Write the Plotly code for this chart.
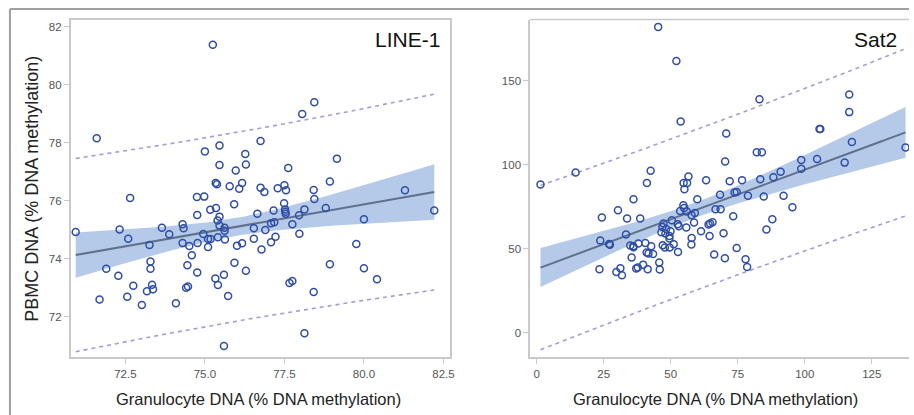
import numpy as np
import plotly.graph_objects as go

# ---------------- data ----------------
line1_x = [75.25, 71.60, 78.06, 78.44, 75.00, 75.46, 76.75, 75.46, 75.97, 76.27, 76.29, 77.62, 79.15, 78.93,
           81.29, 75.34, 75.38, 75.78, 76.08, 76.17, 76.75, 76.87, 77.29, 77.50, 77.55, 78.42, 78.44, 72.65,
           74.75, 74.98, 70.94, 72.32, 72.59, 73.26, 73.65, 73.88, 74.30, 74.33, 74.30, 74.51, 74.76, 74.77,
           74.95, 75.10, 75.10, 75.18, 75.17, 75.35, 75.40, 75.46, 75.46, 75.41, 75.62, 75.62, 75.63, 75.92,
           76.01, 76.17, 76.65, 76.54, 76.54, 76.78, 76.90, 77.08, 77.18, 77.16, 77.08, 77.22, 77.49, 77.52,
           77.54, 77.53, 77.75, 77.96, 77.97, 78.13, 78.80, 80.00, 79.76, 82.21, 71.90, 71.69, 72.28, 72.56,
           72.75, 73.02, 73.18, 73.29, 73.29, 73.34, 73.37, 74.09, 74.45, 74.59, 74.41, 74.47, 74.76, 75.33,
           75.41, 75.60, 75.73, 75.60, 75.93, 76.29, 77.66, 77.75, 78.13, 78.42, 78.93, 80.00, 80.41]
line1_y = [81.39, 78.16, 79.00, 79.40, 77.71, 77.91, 78.07, 77.24, 77.05, 77.62, 77.26, 77.14, 77.46, 76.67,
           76.37, 76.62, 76.58, 76.51, 76.42, 76.62, 76.46, 76.31, 76.44, 76.54, 76.37, 76.38, 76.07, 76.10,
           76.14, 76.15, 74.93, 75.02, 74.70, 74.48, 75.08, 74.85, 75.20, 75.06, 74.55, 74.45, 75.52, 74.55,
           74.86, 74.41, 74.69, 74.69, 75.70, 75.76, 75.33, 75.46, 75.15, 74.75, 75.08, 74.97, 74.67, 75.89,
           74.46, 74.54, 75.56, 75.06, 74.70, 74.33, 75.00, 75.23, 75.27, 75.67, 74.58, 74.77, 75.92, 75.71,
           75.56, 75.63, 75.20, 75.51, 74.87, 75.71, 75.76, 75.37, 74.52, 75.67, 73.66, 72.60, 73.42, 72.70,
           73.08, 72.41, 72.89, 73.91, 73.66, 73.11, 72.96, 72.47, 73.78, 74.13, 73.01, 73.05, 73.53, 73.33,
           73.10, 73.46, 72.72, 71.00, 73.87, 73.59, 73.17, 73.24, 71.44, 72.86, 73.82, 73.68, 73.30]

sat2_x = [45.3, 52.1, 53.7, 1.4, 14.5, 42.5, 41.1, 70.7, 70.3, 83.1, 82.1, 84.0, 116.6, 116.6, 105.5, 105.8,
          117.6, 137.6, 114.9, 98.7, 98.7, 104.6, 91.0, 88.3, 83.4, 76.6, 72.0, 63.2, 56.6, 54.8, 56.1, 55.1,
          59.9, 68.4, 73.8, 74.6, 78.8, 84.7, 92.1, 36.1, 24.3, 30.3, 33.7, 38.6, 33.3, 23.7, 27.0, 27.3, 34.9,
          36.1, 36.0, 37.9, 40.5, 42.7, 41.7, 43.4, 41.0, 35.4, 23.4, 29.7, 31.2, 31.8, 37.1, 37.7, 39.7, 41.4,
          45.7, 45.9, 47.0, 47.8, 49.6, 51.1, 52.7, 47.3, 46.5, 48.0, 46.9, 48.3, 49.9, 49.5, 50.4, 52.6, 53.0,
          53.5, 54.7, 55.0, 56.0, 57.8, 59.0, 58.7, 55.8, 57.8, 57.7, 61.3, 64.1, 64.7, 65.6, 64.5, 66.2, 66.7,
          68.6, 70.2, 69.7, 73.3, 74.6, 77.9, 78.5, 85.7, 87.9, 95.4, 49.5]
sat2_y = [182.2, 161.8, 125.8, 88.2, 95.4, 96.4, 89.2, 118.7, 101.9, 139.1, 107.5, 107.5, 141.9, 131.4, 121.4,
          121.4, 113.6, 110.3, 101.3, 102.9, 97.6, 103.5, 95.8, 92.6, 91.4, 90.8, 90.2, 90.8, 93.0, 89.2, 89.2,
          85.5, 79.5, 82.1, 83.5, 83.8, 81.5, 81.1, 81.5, 79.5, 68.6, 72.9, 68.0, 68.0, 58.4, 54.9, 52.8, 52.4,
          51.9, 50.9, 51.5, 53.1, 53.4, 51.5, 47.1, 46.9, 47.7, 44.7, 37.7, 36.1, 38.3, 34.2, 38.2, 38.8, 40.5,
          37.7, 41.7, 37.6, 52.1, 50.7, 50.7, 52.7, 48.1, 65.0, 59.8, 59.0, 63.0, 61.8, 60.4, 56.1, 67.0, 64.6,
          63.4, 72.5, 75.9, 74.3, 72.2, 69.9, 71.3, 65.6, 62.6, 56.4, 52.5, 60.4, 64.4, 65.0, 65.8, 57.6, 46.5,
          73.5, 73.5, 44.3, 59.2, 69.3, 50.4, 43.7, 39.1, 61.4, 67.6, 74.7, 57.6]

line1_xticks = [72.5, 75.0, 77.5, 80.0, 82.5]
line1_xticktext = ["72.5", "75.0", "77.5", "80.0", "82.5"]
line1_yticks = [72, 74, 76, 78, 80, 82]
sat2_xticks = [0, 25, 50, 75, 100, 125]
sat2_yticks = [0, 50, 100, 150]

panel_titles = ["LINE-1", "Sat2"]
x_title = "Granulocyte DNA (% DNA methylation)"
y_title = "PBMC DNA (% DNA methylation)"

# ---------------- styling ----------------
W, H = 914, 415
MARK = "#2E4DA7"
FIT = "#5E718C"
BAND = "rgba(120,158,214,0.55)"
PRED = "#A39CDB"
AXC = "#C9C9C9"
TICKF = dict(family="Liberation Sans, Arial", size=11.5, color="#555555")
XTITLEF = dict(family="Liberation Sans, Arial, sans-serif", size=16.5, color="#222222")
YTITLEF = dict(family="Liberation Sans, Arial, sans-serif", size=18, color="#222222")


def px_x(p):
    return p / W


def px_y(p):
    return 1 - p / H


def reg_bands(x, y, t=1.984):
    x = np.asarray(x, float)
    y = np.asarray(y, float)
    n = len(x)
    b1, b0 = np.polyfit(x, y, 1)
    resid = y - (b0 + b1 * x)
    s = np.sqrt(np.sum(resid ** 2) / (n - 2))
    xm = x.mean()
    sxx = np.sum((x - xm) ** 2)
    xs = np.linspace(x.min(), x.max(), 120)
    yh = b0 + b1 * xs
    se_m = s * np.sqrt(1 / n + (xs - xm) ** 2 / sxx)
    se_p = s * np.sqrt(1 + 1 / n + (xs - xm) ** 2 / sxx)
    return xs, yh, yh - t * se_m, yh + t * se_m, yh - t * se_p, yh + t * se_p


fig = go.Figure()

for (xd, yd, xa, ya) in [(line1_x, line1_y, "x", "y"), (sat2_x, sat2_y, "x2", "y2")]:
    xs, yh, clo, chi, plo, phi = reg_bands(xd, yd)
    fig.add_trace(go.Scatter(x=np.concatenate([xs, xs[::-1]]), y=np.concatenate([chi, clo[::-1]]),
                             fill="toself", fillcolor=BAND, line=dict(width=0), mode="lines",
                             hoverinfo="skip", showlegend=False, xaxis=xa, yaxis=ya))
    for band in (plo, phi):
        fig.add_trace(go.Scatter(x=xs, y=band, mode="lines", line=dict(color=PRED, width=1.6, dash="4px,4px"),
                                 showlegend=False, xaxis=xa, yaxis=ya))
    fig.add_trace(go.Scatter(x=xs, y=yh, mode="lines", line=dict(color=FIT, width=2),
                             showlegend=False, xaxis=xa, yaxis=ya))
    fig.add_trace(go.Scatter(x=xd, y=yd, mode="markers",
                             marker=dict(symbol="circle-open", size=7, color=MARK, line=dict(width=1.5)),
                             showlegend=False, xaxis=xa, yaxis=ya))

common = dict(ticks="outside", ticklen=5, tickcolor=AXC, tickwidth=1, showgrid=False, zeroline=False,
              showline=True, linecolor=AXC, linewidth=1.5, tickfont=TICKF)

fig.update_layout(
    width=W, height=H, margin=dict(l=0, r=0, t=0, b=0),
    plot_bgcolor="white", paper_bgcolor="white",
    xaxis=dict(domain=[px_x(71), px_x(452)], range=[70.78, 82.69], tickvals=line1_xticks,
               ticktext=line1_xticktext, mirror=True, anchor="y", **common),
    yaxis=dict(domain=[px_y(357), px_y(20)], range=[70.62, 82.24], tickvals=line1_yticks,
               mirror=True, anchor="x", **common),
    xaxis2=dict(domain=[px_x(533), 1.0], range=[-2.49, 138.9], tickvals=sat2_xticks, anchor="y2", **common),
    yaxis2=dict(domain=[px_y(357), px_y(19.5)], range=[-14.55, 186.6], tickvals=sat2_yticks, anchor="x2", **common),
    shapes=[
        dict(type="line", xref="paper", yref="paper", x0=px_x(10), x1=1, y0=px_y(9), y1=px_y(9),
             line=dict(color="#A0A0A0", width=2)),
        dict(type="line", xref="paper", yref="paper", x0=px_x(10), x1=px_x(10), y0=0, y1=px_y(9),
             line=dict(color="#A0A0A0", width=2)),
        dict(type="line", xref="paper", yref="paper", x0=px_x(533), x1=1, y0=px_y(19.5), y1=px_y(19.5),
             line=dict(color=AXC, width=1.5)),
    ],
    annotations=[
        dict(text=panel_titles[0], xref="paper", yref="paper", x=px_x(444), y=px_y(40), xanchor="right",
             yanchor="middle", showarrow=False, font=dict(family="Liberation Sans, Arial", size=21, color="#111111")),
        dict(text=panel_titles[1], xref="paper", yref="paper", x=px_x(904), y=px_y(40), xanchor="right",
             yanchor="middle", showarrow=False, font=dict(family="Liberation Sans, Arial", size=21, color="#111111")),
        dict(text=x_title, xref="paper", yref="paper", x=px_x(260), y=px_y(399), xanchor="center",
             yanchor="middle", showarrow=False, font=XTITLEF),
        dict(text=x_title, xref="paper", yref="paper", x=px_x(719), y=px_y(399), xanchor="center",
             yanchor="middle", showarrow=False, font=XTITLEF),
        dict(text=y_title, xref="paper", yref="paper", x=px_x(32), y=px_y(189), xanchor="center",
             yanchor="middle", textangle=-90, showarrow=False, font=YTITLEF),
    ],
)

fig.write_html("out.html", config={"displayModeBar": False},
               post_script="document.body.style.margin='0';document.body.style.overflow='hidden';")
